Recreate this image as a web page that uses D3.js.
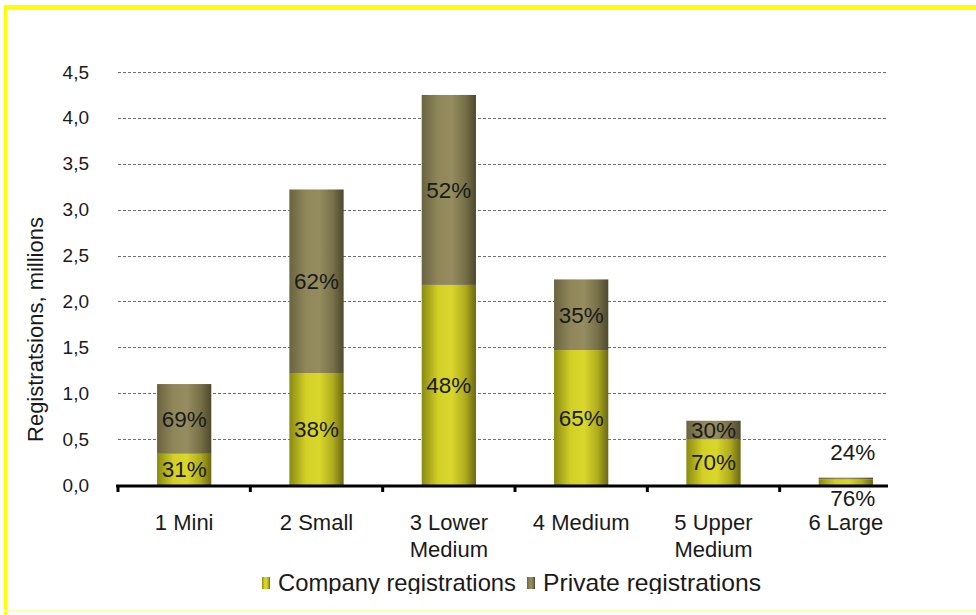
<!DOCTYPE html>
<html>
<head>
<meta charset="utf-8">
<script src="https://cdn.jsdelivr.net/npm/d3@7"></script>
<style>
  body { margin: 0; background: #fff; }
  svg { display: block; font-family: 'Liberation Sans', Arial, sans-serif; }
</style>
</head>
<body>
<script>
// data (millions of registrations)
const categories = ['1 Mini', '2 Small', '3 Lower Medium', '4 Medium', '5 Upper Medium', '6 Large']
const categoryLines = [['1 Mini'], ['2 Small'], ['3 Lower', 'Medium'], ['4 Medium'], ['5 Upper', 'Medium'], ['6 Large']]
const company = [0.34, 1.22, 2.18, 1.47, 0.50, 0.06]
const privateReg = [0.76, 2.00, 2.07, 0.77, 0.20, 0.02]
const companyPct = ['31%', '38%', '48%', '65%', '70%', '76%']
const privatePct = ['69%', '62%', '52%', '35%', '30%', '24%']
const yTicks = [0, 0.5, 1, 1.5, 2, 2.5, 3, 3.5, 4, 4.5]
const seriesNames = ['Company registrations', 'Private registrations']

const W = 976
const H = 615
const plot = { left: 118, right: 912, clipRight: 888, top: 72, bottom: 485 }

const d3 = window.d3

const svg = d3.select('body').append('svg')
  .attr('width', W)
  .attr('height', H)

// frame of the slide
svg.append('rect').attr('x', 0).attr('y', 0).attr('width', W).attr('height', H).attr('fill', '#fff')
svg.append('rect').attr('x', 4).attr('y', 5).attr('width', W - 4).attr('height', 5).attr('fill', '#ffff00')
svg.append('rect').attr('x', 4).attr('y', 5).attr('width', 3).attr('height', H - 5).attr('fill', '#ffff00')
svg.append('rect').attr('x', 4).attr('y', 610).attr('width', W - 4).attr('height', 2).attr('fill', '#ffffb0')

const defs = svg.append('defs')
function gradient (id, stops) {
  const g = defs.append('linearGradient').attr('id', id)
    .attr('x1', 0).attr('x2', 1).attr('y1', 0).attr('y2', 0)
  stops.forEach(([o, c]) => g.append('stop').attr('offset', o).attr('stop-color', c))
}
gradient('gCompany', [[0, '#8a8a12'], [0.3, '#d2cf26'], [0.55, '#dad72c'], [0.8, '#b0ad1e'], [1, '#6a6812']])
gradient('gPrivate', [[0, '#6a633f'], [0.3, '#8f875a'], [0.55, '#958d60'], [0.8, '#777048'], [1, '#4e492c']])

defs.append('clipPath').attr('id', 'legendClip')
  .append('rect').attr('x', 0).attr('y', 0).attr('width', W).attr('height', 594)

const x = d3.scaleBand()
  .domain(categories)
  .range([plot.left, plot.right])
  .paddingInner(0.59)
  .paddingOuter(0.295)

const y = d3.scaleLinear()
  .domain([0, 4.5])
  .range([plot.bottom, plot.top])

// gridlines
svg.append('g')
  .selectAll('line')
  .data(yTicks.filter((d) => d > 0))
  .join('line')
  .attr('x1', plot.left)
  .attr('x2', plot.clipRight)
  .attr('y1', (d) => Math.round(y(d)) + 0.5)
  .attr('y2', (d) => Math.round(y(d)) + 0.5)
  .attr('stroke', '#707070')
  .attr('stroke-width', 1)
  .attr('stroke-dasharray', '3,2')

// y axis labels
const yAxis = svg.append('g')
  .attr('transform', `translate(${plot.left},0)`)
  .call(d3.axisLeft(y).tickValues(yTicks).tickSize(0).tickPadding(29)
    .tickFormat((d) => d.toFixed(1).replace('.', ',')))
yAxis.select('.domain').remove()
yAxis.selectAll('text')
  .attr('font-size', 19)
  .attr('font-family', "'Liberation Sans', Arial, sans-serif")
  .attr('fill', '#1a1a1a')

svg.append('text')
  .attr('transform', `translate(43, ${(plot.top + plot.bottom) / 2 + 51}) rotate(-90)`)
  .attr('text-anchor', 'middle')
  .attr('font-size', 22)
  .attr('fill', '#1a1a1a')
  .text('Registratsions, millions')

// stacked bars
const stack = categories.map((c, i) => ({
  cat: c,
  parts: [
    { key: 'company', y0: 0, y1: company[i], label: companyPct[i] },
    { key: 'private', y0: company[i], y1: company[i] + privateReg[i], label: privatePct[i] }
  ]
}))

const bars = svg.append('g')
stack.forEach((s) => {
  s.parts.forEach((p) => {
    bars.append('rect')
      .attr('x', x(s.cat))
      .attr('width', x.bandwidth())
      .attr('y', y(p.y1))
      .attr('height', y(p.y0) - y(p.y1))
      .attr('fill', p.key === 'company' ? 'url(#gCompany)' : 'url(#gPrivate)')
  })
})

// percentage labels
const labels = svg.append('g')
  .attr('font-size', 22.5)
  .attr('fill', '#1a1a1a')
  .attr('text-anchor', 'middle')
stack.forEach((s) => {
  const cx = x(s.cat) + x.bandwidth() / 2
  const tiny = (y(0) - y(s.parts[1].y1)) < 20
  s.parts.forEach((p) => {
    let cy = (y(p.y0) + y(p.y1)) / 2
    let dx = 0
    if (tiny) {
      // segments too thin: private above, company below the axis
      cy = p.key === 'private' ? y(p.y1) - 26 : y(0) + 13
      dx = 7
    }
    labels.append('text')
      .attr('x', cx + dx)
      .attr('y', cy)
      .attr('dy', '0.36em')
      .text(p.label)
  })
})

// x axis
const step = x.step()
const gap = step - x.bandwidth()
svg.append('line')
  .attr('x1', plot.left - 2)
  .attr('x2', plot.clipRight)
  .attr('y1', plot.bottom + 1)
  .attr('y2', plot.bottom + 1)
  .attr('stroke', '#000')
  .attr('stroke-width', 3)
svg.append('g')
  .selectAll('line')
  .data(categories)
  .join('line')
  .attr('x1', (d) => x(d) - gap / 2)
  .attr('x2', (d) => x(d) - gap / 2)
  .attr('y1', plot.bottom)
  .attr('y2', plot.bottom + 7)
  .attr('stroke', '#000')
  .attr('stroke-width', 3)

const xAxis = svg.append('g')
  .attr('transform', `translate(0,${plot.bottom})`)
  .call(d3.axisBottom(x).tickSize(0).tickPadding(0).tickFormat(''))
xAxis.select('.domain').remove()
xAxis.selectAll('.tick').each(function (d, i) {
  const t = d3.select(this).select('text')
    .attr('font-size', 22)
    .attr('font-family', "'Liberation Sans', Arial, sans-serif")
    .attr('fill', '#1a1a1a')
    .attr('y', 0)
    .attr('dy', null)
  categoryLines[i].forEach((line, k) => {
    t.append('tspan')
      .attr('x', 0)
      .attr('y', 45 + k * 27)
      .text(line)
  })
})

// legend (bottom clipped like the original)
const legend = svg.append('g').attr('clip-path', 'url(#legendClip)')
const legendX = [262, 527]
seriesNames.forEach((name, i) => {
  legend.append('rect')
    .attr('x', legendX[i])
    .attr('y', 577)
    .attr('width', 8)
    .attr('height', 12)
    .attr('fill', i === 0 ? 'url(#gCompany)' : 'url(#gPrivate)')
  legend.append('text')
    .attr('x', legendX[i] + 16)
    .attr('y', 591)
    .attr('font-size', 24)
    .attr('textLength', i === 0 ? 238 : 218)
    .attr('lengthAdjust', 'spacingAndGlyphs')
    .attr('fill', '#1a1a1a')
    .text(name)
})
</script>
</body>
</html>
